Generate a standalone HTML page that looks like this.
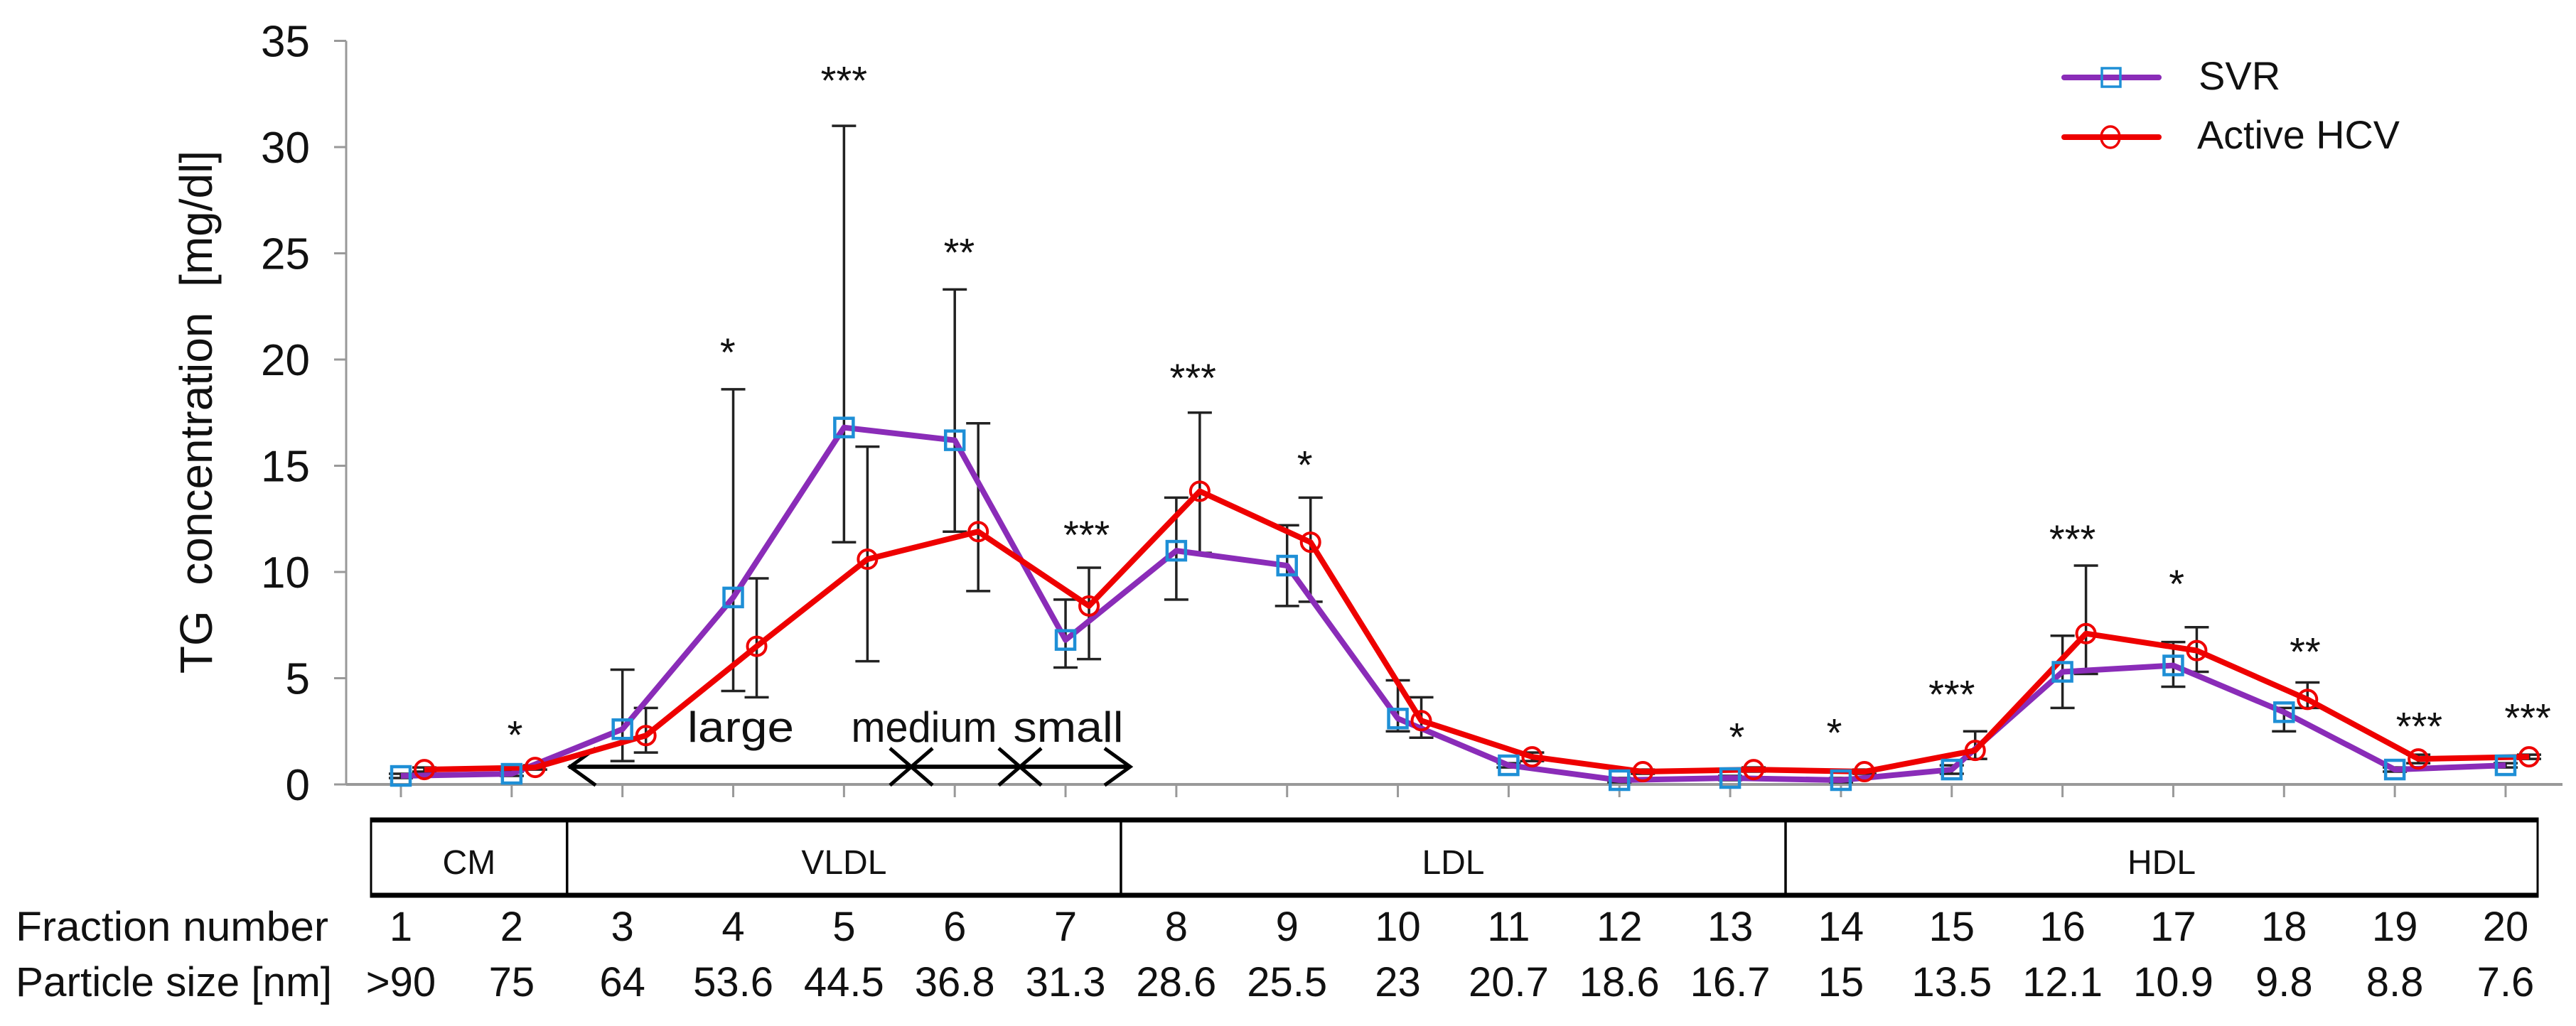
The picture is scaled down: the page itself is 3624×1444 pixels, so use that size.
<!DOCTYPE html>
<html><head><meta charset="utf-8"><style>
html,body{margin:0;padding:0;background:#fff}
svg{display:block}
text{font-family:"Liberation Sans",sans-serif;fill:#111}
</style></head><body>
<svg id="chart" width="3624" height="1444" viewBox="0 0 3624 1444" xmlns="http://www.w3.org/2000/svg">
<g id="axes"></g>
<g id="annot"></g>
<g id="errs"></g>
<g id="series"></g>
<g id="stars"></g>
<g id="table"></g>
<g id="legend"></g>
</svg>
<script>
const fractions = ["1","2","3","4","5","6","7","8","9","10","11","12","13","14","15","16","17","18","19","20"];
const particleSizes = [">90","75","64","53.6","44.5","36.8","31.3","28.6","25.5","23","20.7","18.6","16.7","15","13.5","12.1","10.9","9.8","8.8","7.6"];
const svrValues = [0.4,0.5,2.6,8.8,16.8,16.2,6.8,11.0,10.3,3.1,0.9,0.2,0.3,0.2,0.7,5.3,5.6,3.4,0.7,0.9];
const svrHigh = [0.5,0.6,5.4,18.6,31.0,23.3,8.7,13.5,12.2,4.9,1.0,0.3,0.4,0.3,0.9,7.0,6.7,3.6,0.8,1.0];
const svrLow = [0.3,0.4,1.1,4.4,11.4,11.9,5.5,8.7,8.4,2.5,0.8,0.1,0.2,0.1,0.5,3.6,4.6,2.5,0.6,0.8];
const hcvValues = [0.7,0.8,2.3,6.5,10.6,11.9,8.4,13.8,11.4,3.0,1.3,0.6,0.7,0.6,1.6,7.1,6.3,4.0,1.2,1.3];
const hcvHigh = [0.8,0.9,3.6,9.7,15.9,17.0,10.2,17.5,13.5,4.1,1.5,0.7,0.8,0.7,2.5,10.3,7.4,4.8,1.4,1.4];
const hcvLow = [0.6,0.7,1.5,4.1,5.8,9.1,5.9,10.9,8.6,2.2,1.1,0.5,0.6,0.5,1.2,5.2,5.3,3.6,1.0,1.2];
const starPositions = [2.03,3.95,5.0,6.04,7.19,8.15,9.16,13.06,13.94,15.0,16.09,17.03,18.19,19.22,20.2];
const starLabels = ["*","*","***","**","***","***","*","*","*","***","***","*","**","***","***"];
const starLevels = [2.7,20.7,33.5,25.4,12.1,19.5,15.4,2.6,2.8,4.6,11.9,9.8,6.6,3.1,3.5];
const yTicks = [0,5,10,15,20,25,30,35];
const classNames = ["CM","VLDL","LDL","HDL"];
const classStart = [1,3,8,14];
const classEnd = [2,7,13,20];

const NS="http://www.w3.org/2000/svg";
const X0=564, DX=155.84, Y0=1104, KY=29.9, HOFF=33;
function xs(i){return X0+i*DX;}
function ys(v){return Y0-v*KY;}
function mk(parent,tag,attrs){const e=document.createElementNS(NS,tag);for(const k in attrs)e.setAttribute(k,attrs[k]);parent.appendChild(e);return e;}

const axes=document.getElementById('axes');
let e=mk(axes,'line',{x1:487,y1:ys(35),x2:487,y2:Y0,stroke:'#999','stroke-width':3});


e=mk(axes,'line',{x1:487,y1:Y0,x2:3605,y2:Y0,stroke:'#999','stroke-width':4});


yTicks.forEach(t=>{
  let l=mk(axes,'line',{x1:470,y1:ys(t),x2:487,y2:ys(t),stroke:'#999','stroke-width':3});
  
  
  let tx=mk(axes,'text',{x:436,y:ys(t)+22,'text-anchor':'end','font-size':62});
  tx.textContent=t;
  
  
});
fractions.forEach((f,i)=>{
  let l=mk(axes,'line',{x1:xs(i),y1:Y0,x2:xs(i),y2:Y0+18,stroke:'#999','stroke-width':3});
  
  
});
e=mk(axes,'text',{x:0,y:0,'text-anchor':'middle','font-size':64,transform:'translate(298,580) rotate(-90)'});
e.textContent='TG\u00a0 concentration\u00a0 [mg/dl]';



// VLDL subclass annotation
const an=document.getElementById('annot');
const ay=ys(0.83);
e=mk(an,'line',{x1:800,y1:ay,x2:1590,y2:ay,stroke:'#000','stroke-width':6});


e=mk(an,'polyline',{points:`838,${ay-26} 802,${ay} 838,${ay+26}`,fill:'none',stroke:'#000','stroke-width':5});


e=mk(an,'polyline',{points:`1554,${ay-26} 1590,${ay} 1554,${ay+26}`,fill:'none',stroke:'#000','stroke-width':5});


[1282,1435].forEach(cx=>{
  let g=mk(an,'path',{d:`M${cx-30},${ay-26} L${cx+30},${ay+26} M${cx+30},${ay-26} L${cx-30},${ay+26}`,stroke:'#000','stroke-width':5,fill:'none'});
  
  
});
[["large",1042,150],["medium",1300,205],["small",1503,155]].forEach(([t,x,w])=>{
  let tx=mk(an,'text',{x:x,y:1044,'text-anchor':'middle','font-size':60,textLength:w,lengthAdjust:'spacingAndGlyphs'});
  tx.textContent=t;
  
  
});

// error bars
const errs=document.getElementById('errs');
function errbar(x,hi,lo,name){
  let g=mk(errs,'path',{d:`M${x},${ys(hi)} L${x},${ys(lo)} M${x-17},${ys(hi)} L${x+17},${ys(hi)} M${x-17},${ys(lo)} L${x+17},${ys(lo)}`,stroke:'#222','stroke-width':3.5,fill:'none'});
  
  
}
fractions.forEach((f,i)=>{errbar(xs(i),svrHigh[i],svrLow[i],'svr-error-bar');errbar(xs(i)+HOFF,hcvHigh[i],hcvLow[i],'hcv-error-bar');});

// series
const ser=document.getElementById('series');
e=mk(ser,'polyline',{points:svrValues.map((v,i)=>xs(i)+','+ys(v)).join(' '),fill:'none',stroke:'#8a2cb8','stroke-width':8,'stroke-linejoin':'round'});


e=mk(ser,'polyline',{points:hcvValues.map((v,i)=>(xs(i)+HOFF)+','+ys(v)).join(' '),fill:'none',stroke:'#ee0000','stroke-width':8,'stroke-linejoin':'round'});


svrValues.forEach((v,i)=>{
  let r=mk(ser,'rect',{x:xs(i)-13,y:ys(v)-13,width:26,height:26,fill:'none',stroke:'#1e8fd6','stroke-width':4.5});
  
  
});
hcvValues.forEach((v,i)=>{
  let c=mk(ser,'circle',{cx:xs(i)+HOFF,cy:ys(v),r:13,fill:'none',stroke:'#ee0000','stroke-width':4});
  
  
});

// stars
const st=document.getElementById('stars');
starPositions.forEach((p,k)=>{
  let tx=mk(st,'text',{x:xs(p-1),y:ys(starLevels[k])+30,'text-anchor':'middle','font-size':56});
  tx.textContent=starLabels[k];
  
  
});

// table
const tb=document.getElementById('table');
const TL=522,TR=3570,TT=1152,TB=1262;
function bx(i){return i===0?TL:(i>=fractions.length?TR:(xs(i-1)+xs(i))/2);}
e=mk(tb,'rect',{x:TL,y:TT,width:TR-TL,height:TB-TT,fill:'none',stroke:'#000','stroke-width':3});


e=mk(tb,'line',{x1:TL,y1:TT+2,x2:TR,y2:TT+2,stroke:'#000','stroke-width':7});


e=mk(tb,'line',{x1:TL,y1:TB-2,x2:TR,y2:TB-2,stroke:'#000','stroke-width':7});


classNames.forEach((c,k)=>{
  const x1=bx(classStart[k]-1), x2=bx(classEnd[k]);
  if(k>0){let l=mk(tb,'line',{x1:x1,y1:TT,x2:x1,y2:TB,stroke:'#000','stroke-width':3.5});
    
    }
  let tx=mk(tb,'text',{x:(x1+x2)/2,y:1230,'text-anchor':'middle','font-size':48});
  tx.textContent=c;
  
  
});
e=mk(tb,'text',{x:22,y:1324,'font-size':58,textLength:440,lengthAdjust:'spacingAndGlyphs'});
e.textContent='Fraction number';


e=mk(tb,'text',{x:22,y:1402,'font-size':58,textLength:445,lengthAdjust:'spacingAndGlyphs'});
e.textContent='Particle size [nm]';


fractions.forEach((f,i)=>{
  let t1=mk(tb,'text',{x:xs(i),y:1324,'text-anchor':'middle','font-size':58});
  t1.textContent=f;
  
  
  let t2=mk(tb,'text',{x:xs(i),y:1402,'text-anchor':'middle','font-size':58});
  t2.textContent=particleSizes[i];
  
  
});

// legend
const lg=document.getElementById('legend');
e=mk(lg,'line',{x1:2904,y1:109,x2:3037,y2:109,stroke:'#8a2cb8','stroke-width':8,'stroke-linecap':'round'});


e=mk(lg,'rect',{x:2957,y:96,width:26,height:26,fill:'none',stroke:'#1e8fd6','stroke-width':3.5});


e=mk(lg,'text',{x:3093,y:126,'font-size':56});
e.textContent='SVR';


e=mk(lg,'line',{x1:2904,y1:193,x2:3037,y2:193,stroke:'#ee0000','stroke-width':8,'stroke-linecap':'round'});


e=mk(lg,'ellipse',{cx:2969,cy:193,rx:13,ry:15,fill:'none',stroke:'#ee0000','stroke-width':3.5});


e=mk(lg,'text',{x:3091,y:209,'font-size':56,textLength:285,lengthAdjust:'spacingAndGlyphs'});
e.textContent='Active HCV';


</script>
</body></html>
